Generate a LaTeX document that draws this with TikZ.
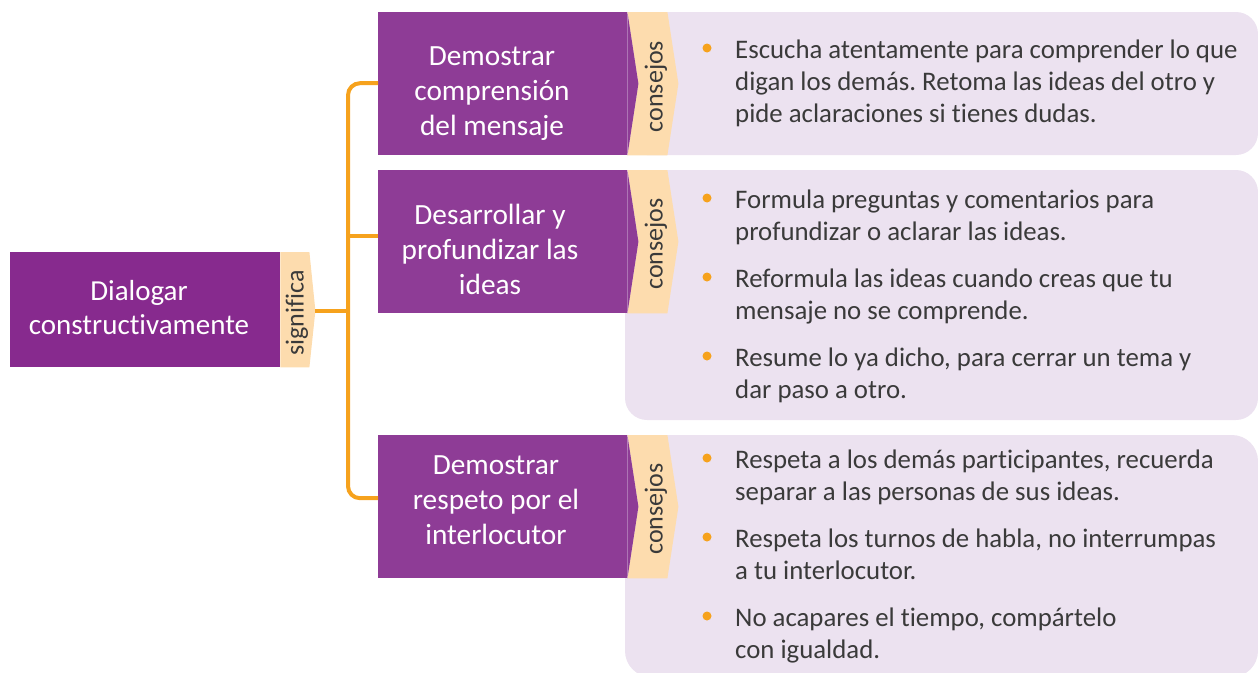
\documentclass[tikz,border=0pt]{standalone}
\usepackage{fontspec}
\setmainfont{Carlito}[Ligatures={NoCommon,NoContextual}]
\usetikzlibrary{calc}
\frenchspacing
\definecolor{lpurple}{HTML}{872A8E}
\definecolor{bpurple}{HTML}{8E3C96}
\definecolor{peach}{HTML}{FDDCAE}
\definecolor{lav}{HTML}{ECE2F0}
\definecolor{orng}{HTML}{F6A21D}
\definecolor{txt}{HTML}{3A3A3A}
\tikzset{
 boxtext/.style={text=white, align=center, inner sep=0pt, anchor=north, font=\fontsize{29.3}{35}\selectfont},
 maintext/.style={text=white, align=center, inner sep=0pt, anchor=north, font=\fontsize{29}{34}\selectfont},
 tabtext/.style={text=txt, rotate=90, inner sep=0pt, font=\fontsize{26}{30}\selectfont},
 itemtext/.style={text=txt, align=left, inner sep=0pt, anchor=north west, font=\fontsize{26.8}{32}\selectfont},
 dot/.style={circle, fill=orng, inner sep=0pt, minimum size=9pt},
 conn/.style={draw=orng, line width=4pt, rounded corners=12pt},
 panel/.style={fill=lav, rounded corners=22pt},
 pbox/.style={fill=bpurple, inner sep=0pt, minimum width=249pt, minimum height=143pt, anchor=north west},
}
\begin{document}
\begin{tikzpicture}[x=1pt,y=-1pt]
\useasboundingbox (0,0) rectangle (1258,672);
\clip (0,0) rectangle (1258,672);
% panels
\fill[panel] (625,12) rectangle (1258,155);
\fill[panel] (625,170) rectangle (1258,420);
\fill[panel, rounded corners=26pt] (625,435) rectangle (1258,677);
% main box
\node[fill=lpurple, inner sep=0pt, minimum width=270pt, minimum height=115pt, anchor=north west] (main) at (10,252) {};
\fill[peach] (main.north east) -- ++(29,0) -- ($(main.east)+(35,1)$) coordinate (sigtip) -- ($(main.south east)+(29,0)$) -- (main.south east) -- cycle;
\node[maintext] (maint) at (139,276.2) {\strut Dialogar\\constructivamente};
\node[tabtext] (sig) at (297,313) {significa};
% boxes
\node[pbox] (d1) at (378,12) {};
\node[pbox] (d2) at (378,170) {};
\node[pbox] (d3) at (378,435) {};
\foreach \b in {d1,d2,d3}{
  \fill[peach] (\b.north east) -- ++(40,0) -- ($(\b.east)+(51,0)$) -- ($(\b.south east)+(40,0)$) -- (\b.south east) -- ($(\b.east)+(11,0)$) -- cycle;
  \fill[bpurple] (\b.north east) -- ($(\b.east)+(11,0)$) -- (\b.south east) -- cycle;
}
\node[boxtext] (t1) at (492,40.5) {\strut Demostrar\\comprensión\\del mensaje};
\node[boxtext] (t2) at (490,199.5) {\strut Desarrollar y\\profundizar las\\ideas};
\node[boxtext] (t3) at (496,449.5) {\strut Demostrar\\respeto por el\\interlocutor};
\node[tabtext] (c1) at (656,86.5) {consejos};
\node[tabtext] (c2) at (656,244) {consejos};
\node[tabtext] (c3) at (656,509) {consejos};
% connectors
\coordinate (jx) at (348,0);
\draw[conn] ($(d1.west)+(0,-0.5)$) -- ($(d1.west -| jx)+(0,-0.5)$) -- ($(d3.west -| jx)+(0,-8.5)$) -- ($(d3.west)+(0,-8.5)$);
\draw[conn, rounded corners=0pt] (sigtip) -- (sigtip -| jx);
\draw[conn, rounded corners=0pt] ($(jx |- d2.west)+(0,-5.5)$) -- ($(d2.west)+(0,-5.5)$);
% items
\node[dot] (b11) at (707,48) {};
\node[itemtext] (i11) at (735,35.6) {\strut Escucha atentamente para comprender lo que\\digan los demás. Retoma las ideas del otro y\\pide aclaraciones si tienes dudas.};
\node[dot] (b21) at (707,198) {};
\node[itemtext] (i21) at (735,185.6) {\strut Formula preguntas y comentarios para\\profundizar o aclarar las ideas.};
\node[dot] (b22) at (707,277) {};
\node[itemtext] (i22) at (735,264.6) {\strut Reformula las ideas cuando creas que tu\\mensaje no se comprende.};
\node[dot] (b23) at (707,356) {};
\node[itemtext] (i23) at (735,343.6) {\strut Resume lo ya dicho, para cerrar un tema y\\dar paso a otro.};
\node[dot] (b31) at (707,458) {};
\node[itemtext] (i31) at (735,445.6) {\strut Respeta a los demás participantes, recuerda\\separar a las personas de sus ideas.};
\node[dot] (b32) at (707,537) {};
\node[itemtext] (i32) at (735,524.6) {\strut Respeta los turnos de habla, no interrumpas\\a tu interlocutor.};
\node[dot] (b33) at (707,616) {};
\node[itemtext] (i33) at (735,603.6) {\strut No acapares el tiempo, compártelo\\con igualdad.};
\end{tikzpicture}
\end{document}
